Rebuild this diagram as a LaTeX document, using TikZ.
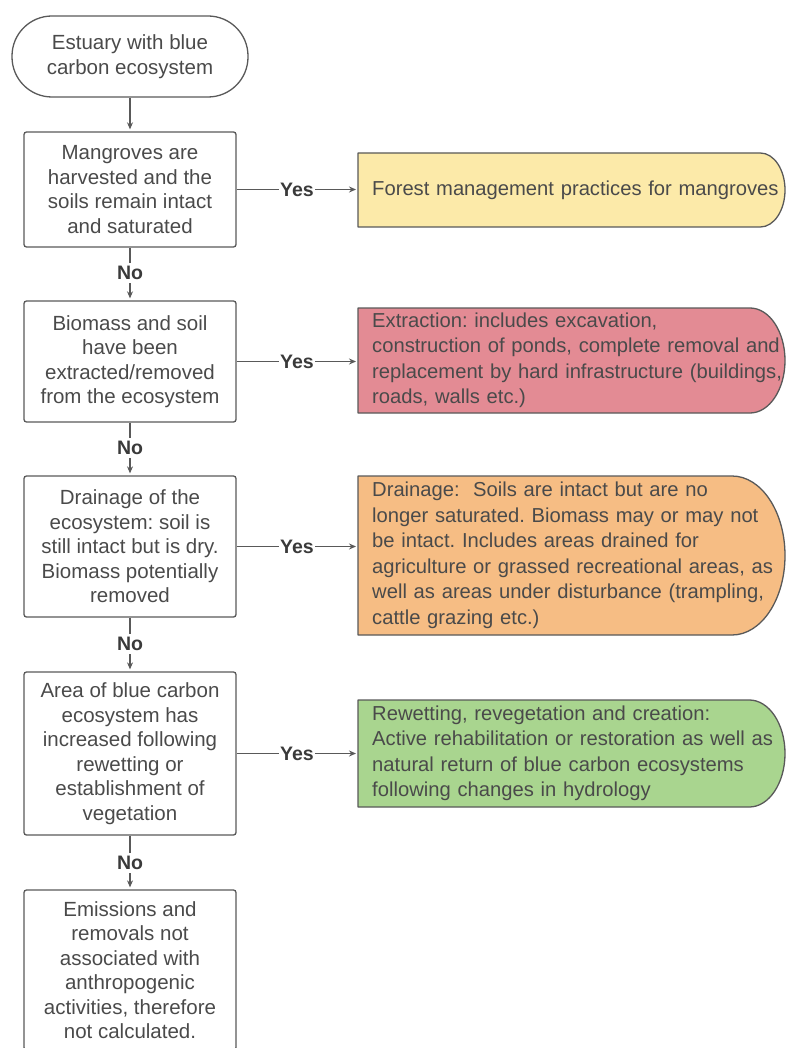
\documentclass[tikz,border=0pt]{standalone}
\usepackage{fontspec}
\setmainfont{Liberation Sans}
\usetikzlibrary{arrows.meta}
\definecolor{bordercol}{HTML}{595959}
\definecolor{txt}{HTML}{4A4A4A}
\definecolor{lblc}{HTML}{3A3A3A}
\definecolor{yel}{HTML}{FCEAA9}
\definecolor{redc}{HTML}{E38B94}
\definecolor{org}{HTML}{F6BD84}
\definecolor{grn}{HTML}{A9D58F}
\newcommand\rshape[3]{% colour, top, bottom (pixel coords)
  \pgfmathsetmacro\rh{#3-#2}%
  \path[fill=#1,draw=bordercol,line width=1.3pt,line join=round]
    (358,#2) -- ({785-\rh/3},#2)
    arc[start angle=90,end angle=-90,x radius={\rh/3*1pt},y radius={\rh/2*1pt}]
    -- (358,#3) -- cycle;}
\frenchspacing
\begin{document}
\begin{tikzpicture}[x=1pt,y=-1pt,
  lbox/.style={draw=bordercol,line width=1.3pt,rounded corners=2.5pt,minimum width=212pt,
    align=center,text=txt,font=\fontsize{20.5}{24.5}\selectfont,inner sep=0pt},
  rbox/.style={text width=440pt,inner xsep=14pt,inner ysep=0pt,align=left,text=txt,
    font=\fontsize{20.2}{25.5}\selectfont,anchor=west},
  lbl/.style={font=\fontsize{19.5}{22}\selectfont\bfseries,text=lblc,inner xsep=1pt,inner ysep=3pt},
  conn/.style={draw=bordercol,line width=1.1pt},
  arr/.style={conn,-{Stealth[length=7pt,width=6pt]},shorten >=2pt}]
\useasboundingbox (0,0) rectangle (786,1048);
\clip (0,0) rectangle (786,1048);
% coloured outcome shapes
\rshape{yel}{153}{227}
\rshape{redc}{308}{413}
\rshape{org}{476}{635}
\rshape{grn}{700}{807}
% start
\node[lbox,rounded corners=40pt,minimum width=236pt,minimum height=81pt] (start) at (130,56.5)
  {Estuary with blue\\carbon ecosystem};
% decision boxes
\node[lbox,minimum height=115pt] (b1) at (130,189.5)
  {Mangroves are\\harvested and the\\soils remain intact\\and saturated};
\node[lbox,minimum height=121pt] (b2) at (130,361.5)
  {Biomass and soil\\have been\\extracted/removed\\from the ecosystem};
\node[lbox,minimum height=141pt] (b3) at (130,546.5)
  {Drainage of the\\ecosystem: soil is\\still intact but is dry.\\Biomass potentially\\removed};
\node[lbox,minimum height=163pt] (b4) at (130,753.5)
  {Area of blue carbon\\ecosystem has\\increased following\\rewetting or\\establishment of\\vegetation};
\node[lbox,minimum height=160pt] (b5) at (130,970)
  {Emissions and\\removals not\\associated with\\anthropogenic\\activities, therefore\\not calculated.};
% outcome texts
\node[rbox,minimum height=74pt] (r1) at (358,190)
  {Forest management practices for mangroves};
\node[rbox,minimum height=105pt] (r2) at (358,360.5)
  {Extraction: includes excavation,\\construction of ponds, complete removal and\\replacement by hard infrastructure (buildings,\\roads, walls etc.)};
\node[rbox,minimum height=159pt] (r3) at (358,555.5)
  {Drainage:\ \ Soils are intact but are no\\longer saturated. Biomass may or may not\\be intact. Includes areas drained for\\agriculture or grassed recreational areas, as\\well as areas under disturbance (trampling,\\cattle grazing etc.)};
\node[rbox,minimum height=107pt] (r4) at (358,753.5)
  {Rewetting, revegetation and creation:\\Active rehabilitation or restoration as well as\\natural return of blue carbon ecosystems\\following changes in hydrology};
% labels
\node[lbl] (y1) at (297,189.5) {Yes};
\node[lbl] (y2) at (297,361.5) {Yes};
\node[lbl] (y3) at (297,546.5) {Yes};
\node[lbl] (y4) at (297,753.5) {Yes};
\node[lbl] (n1) at (130,273) {No};
\node[lbl] (n2) at (130,448) {No};
\node[lbl] (n3) at (130,644) {No};
\node[lbl] (n4) at (130,863) {No};
% connectors
\draw[arr] (start) -- (b1);
\foreach \a/\l/\b in {b1/n1/b2,b2/n2/b3,b3/n3/b4,b4/n4/b5}{
  \draw[conn] (\a) -- (\l);
  \draw[arr] (\l) -- (\b);
}
\foreach \a/\l/\b in {b1/y1/r1,b2/y2/r2,b3/y3/r3,b4/y4/r4}{
  \draw[conn] (\a) -- (\l);
  \draw[arr] (\l) -- (\l -| \b.west);
}
\end{tikzpicture}
\end{document}
